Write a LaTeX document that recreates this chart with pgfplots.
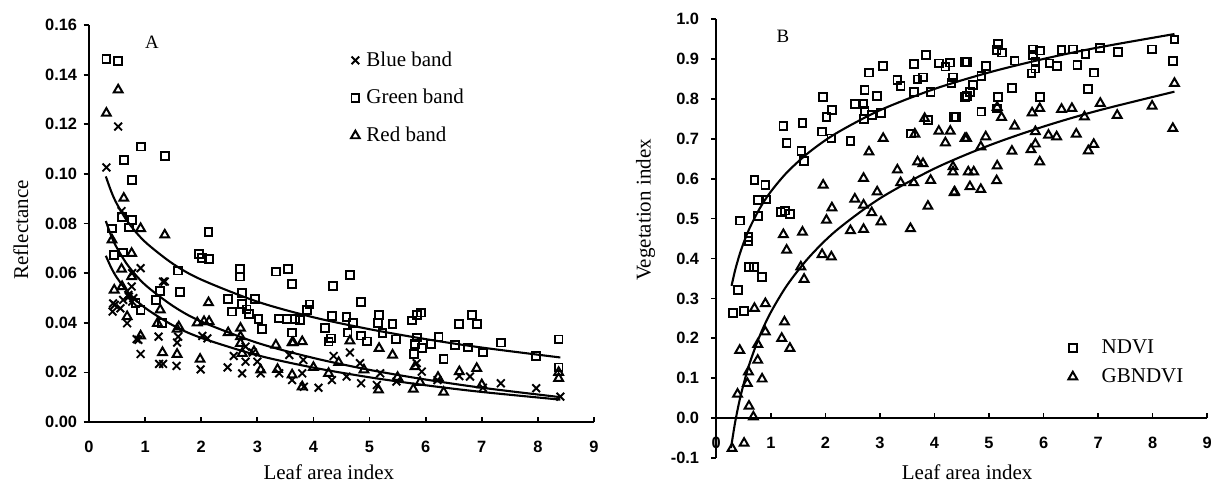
\documentclass[border=0pt]{standalone}
\usepackage{fontspec}
\setmainfont{Liberation Serif}
\newfontfamily\tickfont{Liberation Sans}
\usepackage{pgfplots}
\pgfplotsset{compat=1.18}
\pgfplotsset{
  common/.style={
    scale only axis, anchor=south west,
    axis line style={line width=0.9pt},
    tick style={line width=0.8pt, black},
    major tick length=2.5pt,
    xtick align=inside, ytick align=outside,
    xtick={0,1,2,3,4,5,6,7,8,9},
    xmin=0, xmax=9,
    /pgf/number format/assume math mode=true,
    ticklabel style={font=\tickfont\bfseries\fontsize{7.8}{9}\selectfont},
    xticklabel style={anchor=base, yshift=-14.5pt},
    label style={font=\fontsize{10}{12}\selectfont},
    legend cell align=left,
    legend style={draw=none, fill=none, inner sep=0pt, font=\fontsize{10}{12}\selectfont},
    hide obscured x ticks=false, hide obscured y ticks=false,
  },
  bl/.style={only marks, mark=x, mark size=2.6pt, mark options={line width=0.9pt, black}},
  gr/.style={only marks, mark=square, mark size=1.85pt, mark options={line width=0.9pt, black, fill=none}},
  rd/.style={only marks, mark=triangle, mark size=2.4pt, mark options={line width=0.95pt, black, fill=none}},
  fit/.style={no marks, smooth, line width=1pt, black, forget plot},
}
\begin{document}
\begin{tikzpicture}
\path[use as bounding box] (0,0) rectangle (576.7pt,230pt);
% ---------------- Panel A ----------------
\begin{axis}[common,
  at={(42.38pt,29.05pt)}, width=240.5pt, height=189pt,
  ymin=0, ymax=0.16,
  axis lines*=left,
  ytick={0,0.02,0.04,0.06,0.08,0.10,0.12,0.14,0.16},
  yticklabel style={/pgf/number format/fixed, /pgf/number format/fixed zerofill,
    /pgf/number format/precision=2, anchor=east, inner sep=0pt, xshift=-3pt},
  xlabel={Leaf area index}, ylabel={Reflectance},
  xlabel style={at={([yshift=-27.3pt]axis description cs:0.475,0)}, anchor=base},
  ylabel style={at={([xshift=-29pt]axis description cs:0,0.484)}, anchor=base},
  legend style={at={(axis description cs:0.518,0.945)}, anchor=north west,
    row sep=5.5pt, /tikz/every odd column/.append style={column sep=1.2pt}},
]
\addplot[bl] coordinates {
(0.31,0.1026)(0.52,0.1191)(0.58,0.085)(0.92,0.062)(0.77,0.060)(1.35,0.0566)
(0.43,0.0478)(0.42,0.0445)(0.56,0.0458)(0.71,0.0505)(0.77,0.0485)(0.68,0.0398)
(0.88,0.0331)(0.92,0.0274)(1.24,0.0344)(1.25,0.0234)(1.32,0.0234)(1.56,0.0226)
(1.57,0.032)(1.59,0.0344)(1.99,0.0212)(2.02,0.0347)(2.11,0.0337)(2.47,0.022)
(2.58,0.0266)(2.73,0.0196)(2.79,0.0243)(2.92,0.028)(3.06,0.0196)(3.39,0.0196)
(3.62,0.0169)(3.80,0.0196)(3.57,0.027)(3.83,0.0142)(2.79,0.0304)(3.00,0.0243)
(4.09,0.0138)(4.36,0.0266)(4.65,0.028)(4.85,0.0156)(4.33,0.0169)(4.59,0.0183)
(4.83,0.0237)(5.19,0.0196)(5.48,0.0163)(5.93,0.0203)(5.84,0.0237)(6.21,0.0169)
(6.60,0.0185)(6.79,0.0183)(7.02,0.0138)(7.34,0.0156)(7.97,0.0136)(8.40,0.0102)
(5.13,0.0149)(3.82,0.025)(0.46,0.0472)(0.61,0.0492)(0.70,0.0512)(0.79,0.0499)
(0.76,0.0546)(0.85,0.0334)(1.32,0.0566)
};
\addlegendentry{Blue band}
\addplot[gr] coordinates {
(0.31,0.1464)(0.52,0.1456)(0.62,0.1056)(0.93,0.111)(1.35,0.1071)(0.77,0.0976)
(0.59,0.0825)(0.77,0.0813)(0.71,0.0784)(0.41,0.078)(2.13,0.0767)(0.45,0.0673)
(0.61,0.0683)(1.96,0.0677)(2.14,0.0656)(2.01,0.066)(1.59,0.061)(1.62,0.0524)
(1.27,0.0528)(1.19,0.0492)(0.92,0.0452)(0.83,0.048)(1.30,0.040)(2.69,0.0616)
(2.69,0.0586)(2.73,0.0519)(2.96,0.0496)(2.48,0.0496)(2.55,0.0445)(2.73,0.0476)
(2.81,0.0454)(2.85,0.0435)(3.02,0.0414)(3.08,0.0374)(3.33,0.0606)(3.55,0.0617)
(3.62,0.0555)(3.39,0.0417)(3.53,0.0414)(3.62,0.036)(3.67,0.0414)(3.76,0.0411)
(3.88,0.0452)(3.93,0.0474)(4.35,0.0548)(4.65,0.0593)(4.85,0.0483)(4.33,0.0427)
(4.21,0.038)(4.31,0.0337)(4.27,0.0324)(4.59,0.0422)(4.61,0.036)(4.71,0.0398)
(4.85,0.0348)(4.95,0.0325)(5.17,0.0431)(5.15,0.0398)(5.41,0.0394)(5.23,0.0358)
(5.47,0.0333)(5.76,0.0409)(5.84,0.0431)(5.92,0.0441)(5.84,0.034)(5.81,0.0313)
(5.79,0.0273)(5.94,0.0297)(6.10,0.0313)(6.23,0.0344)(6.32,0.0254)(6.52,0.031)
(6.60,0.0394)(6.75,0.03)(6.82,0.0431)(6.92,0.0394)(7.02,0.028)(7.34,0.032)
(7.97,0.0266)(8.37,0.0333)(8.37,0.022)
};
\addlegendentry{Green band}
\addplot[rd] coordinates {
(0.52,0.1339)(0.31,0.1245)(0.62,0.0902)(0.92,0.078)(1.35,0.0754)(0.41,0.0734)
(0.76,0.068)(0.58,0.0616)(0.45,0.0532)(0.59,0.0546)(2.13,0.0481)(1.27,0.0452)
(0.68,0.0425)(1.22,0.0398)(1.93,0.040)(2.05,0.0405)(2.14,0.0405)(2.48,0.036)
(2.70,0.0378)(2.70,0.0344)(2.70,0.0317)(3.33,0.031)(3.62,0.032)(3.80,0.0324)
(0.92,0.0347)(1.31,0.028)(1.57,0.0273)(1.98,0.0253)(1.57,0.0374)(1.60,0.0384)
(2.73,0.0277)(2.94,0.0284)(3.36,0.0212)(3.06,0.021)(3.80,0.0142)(3.62,0.019)
(4.65,0.0327)(5.17,0.0297)(5.41,0.027)(6.32,0.012)(6.91,0.0216)(6.60,0.0203)
(6.22,0.018)(5.81,0.0223)(5.78,0.0132)(5.16,0.0129)(8.37,0.0176)(8.37,0.020)
(3.64,0.032)(4.27,0.0196)(4.00,0.022)(4.45,0.024)(4.90,0.021)(5.50,0.018)
(5.90,0.016)(7.00,0.015)(0.76,0.0586)
};
\addlegendentry{Red band}
\addplot[fit] coordinates {(0.3,0.0670)(0.4,0.0620)(0.5,0.0581)(0.7,0.0522)(1,0.0460)(1.5,0.0389)(2,0.0339)(3,0.0269)(4,0.0219)(5,0.0180)(6,0.0148)(7,0.0121)(8.4,0.0090)};
\addplot[fit] coordinates {(0.3,0.0810)(0.4,0.0748)(0.5,0.0701)(0.7,0.0629)(1,0.0553)(1.5,0.0467)(2,0.0405)(3,0.0319)(4,0.0258)(5,0.0210)(6,0.0171)(7,0.0138)(8.4,0.0100)};
\addplot[fit] coordinates {(0.3,0.0990)(0.4,0.0927)(0.5,0.0878)(0.7,0.0804)(1,0.0726)(1.5,0.0637)(2,0.0574)(3,0.0485)(4,0.0422)(5,0.0374)(6,0.0334)(7,0.0300)(8.4,0.0260)};
\node[font=\fontsize{9}{11}\selectfont] at (axis cs:1.12,0.1532) {A};
\end{axis}
% ---------------- Panel B ----------------
\begin{axis}[common,
  at={(341.1pt,11.9pt)}, width=233.8pt, height=209pt,
  ymin=-0.1, ymax=1.0,
  axis y line*=left, axis x line*=middle,
  ytick={-0.1,0,0.1,0.2,0.3,0.4,0.5,0.6,0.7,0.8,0.9,1.0},
  yticklabel style={/pgf/number format/fixed, /pgf/number format/fixed zerofill,
    /pgf/number format/precision=1, anchor=east, inner sep=0pt, xshift=-5.5pt},
  xlabel={Leaf area index}, ylabel={Vegetation index},
  xlabel style={at={([yshift=-10.2pt]axis description cs:0.511,0)}, anchor=base},
  ylabel style={at={([xshift=-31.3pt]axis description cs:0,0.565)}, anchor=base, rotate=0},
  legend style={at={(axis description cs:0.7165,0.2807)}, anchor=north west,
    row sep=1.7pt, /tikz/every odd column/.append style={column sep=9.7pt}},
]
\addplot[gr] coordinates {
(0.31,0.264)(0.51,0.269)(0.40,0.321)(0.59,0.454)(0.59,0.444)(0.43,0.495)
(0.60,0.379)(0.69,0.379)(0.84,0.354)(0.70,0.596)(0.76,0.546)(0.76,0.506)
(0.90,0.584)(0.92,0.548)(1.18,0.517)(1.26,0.520)(1.35,0.511)(1.23,0.732)
(1.29,0.690)(1.58,0.739)(1.56,0.669)(1.61,0.644)(1.96,0.804)(2.02,0.755)
(2.12,0.772)(1.94,0.718)(2.11,0.701)(2.46,0.695)(2.54,0.787)(2.70,0.787)
(2.72,0.822)(2.80,0.866)(2.72,0.770)(2.86,0.759)(2.71,0.749)(2.95,0.807)
(3.02,0.764)(3.06,0.882)(3.32,0.847)(3.38,0.832)(3.62,0.887)(3.69,0.849)
(3.79,0.854)(3.84,0.910)(3.62,0.818)(3.93,0.818)(4.08,0.889)(4.20,0.881)
(4.29,0.891)(4.34,0.854)(4.31,0.840)(4.36,0.755)(3.57,0.713)(3.88,0.747)
(4.56,0.893)(4.56,0.805)
(4.60,0.893)(4.95,0.882)(4.86,0.857)(4.71,0.835)(4.65,0.818)(4.60,0.807)
(5.17,0.937)(5.14,0.922)(5.24,0.916)(5.47,0.896)(5.42,0.828)(5.17,0.804)
(5.15,0.776)(4.86,0.768)(4.40,0.755)(5.81,0.924)(5.93,0.921)(5.81,0.910)
(5.85,0.893)(5.85,0.876)(5.78,0.864)(6.11,0.889)(6.25,0.882)(5.93,0.805)
(6.33,0.922)(6.54,0.924)(6.77,0.912)(6.62,0.885)(6.93,0.866)(7.04,0.928)
(6.82,0.824)(7.37,0.918)(7.99,0.924)(8.40,0.949)(8.37,0.895)
};
\addlegendentry{NDVI}
\addplot[rd] coordinates {
(0.29,-0.076)(0.51,-0.063)(0.68,0.003)(0.60,0.030)(0.39,0.060)(0.57,0.087)
(0.59,0.116)(0.76,0.145)(0.84,0.098)(0.76,0.185)(0.90,0.216)(0.43,0.170)
(0.70,0.275)(0.90,0.287)(1.25,0.241)(1.20,0.200)(1.35,0.175)(1.55,0.379)
(1.61,0.348)(1.23,0.460)(1.29,0.421)(1.58,0.466)(1.94,0.410)(2.11,0.404)
(1.96,0.584)(2.02,0.496)(2.12,0.527)(2.46,0.470)(2.54,0.549)(2.70,0.473)
(2.70,0.601)(2.70,0.534)(2.80,0.667)(2.85,0.515)(2.95,0.567)(3.02,0.492)
(3.06,0.701)(3.32,0.622)(3.38,0.590)(3.56,0.475)(3.62,0.590)(3.69,0.642)
(3.79,0.638)(3.88,0.531)(3.93,0.596)(3.82,0.751)(3.64,0.712)(4.08,0.719)
(4.29,0.719)(4.20,0.690)(4.34,0.630)(4.34,0.617)(4.36,0.565)(4.56,0.701)
(4.37,0.567)(4.65,0.580)(4.85,0.573)(5.14,0.595)(5.15,0.632)(4.62,0.617)
(4.72,0.617)(4.59,0.701)(4.94,0.705)(4.85,0.680)(5.23,0.754)(5.15,0.779)
(5.47,0.732)(5.42,0.669)(5.77,0.673)(5.85,0.687)(5.85,0.718)(5.93,0.642)
(5.79,0.765)(5.93,0.776)(6.09,0.709)(6.24,0.705)(6.33,0.774)(6.52,0.776)
(6.60,0.712)(6.82,0.670)(6.92,0.686)(6.75,0.755)(7.04,0.789)(7.35,0.759)
(7.99,0.782)(8.40,0.839)(8.37,0.726)
};
\addlegendentry{GBNDVI}
\addplot[fit] coordinates {(0.28,0.3313)(0.35,0.3728)(0.45,0.4194)(0.6,0.4728)(0.8,0.5262)(1,0.5676)(1.3,0.6163)(1.7,0.6661)(2.2,0.7139)(3,0.7715)(4,0.8249)(5,0.8663)(6,0.9002)(7,0.9288)(8.4,0.9626)};
\addplot[fit] coordinates {(0.27,-0.0750)(0.35,-0.0075)(0.45,0.0577)(0.6,0.1325)(0.8,0.2072)(1,0.2652)(1.3,0.3334)(1.7,0.4030)(2.2,0.4701)(3,0.5506)(4,0.6254)(5,0.6833)(6,0.7307)(7,0.7707)(8.4,0.8181)};
\node[font=\fontsize{9}{11}\selectfont] at (axis cs:1.22,0.957) {B};
\end{axis}
\end{tikzpicture}
\end{document}
